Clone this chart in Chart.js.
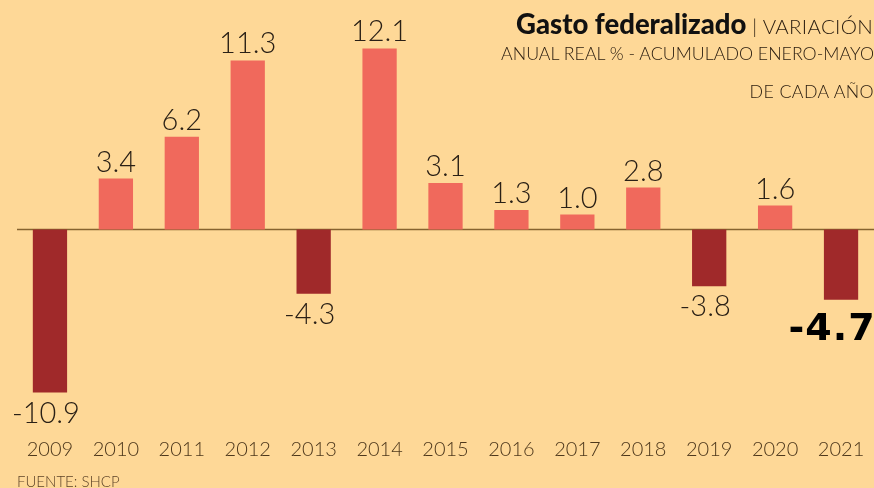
<!DOCTYPE html>
<html>
<head>
<meta charset="utf-8">
<script src="https://cdn.jsdelivr.net/npm/chart.js@4"></script>
<style>
  html, body { margin:0; padding:0; background:#FED897; }
  #wrap { position:relative; width:874px; height:488px; overflow:hidden; background:#FED897; }
  canvas { position:absolute; left:0; top:0; }
  .t { position:absolute; right:0; white-space:nowrap; font-family:Lato, sans-serif; color:#2e2012; line-height:1; }
  #t1 { top:10px; right:1px; }
  #t1 b { font-weight:900; font-size:27.5px; color:#111; }
  #t1 span { font-weight:300; font-size:20.5px; letter-spacing:0.3px; }
  #t2 { top:45px; font-weight:300; font-size:17.8px; }
  #t3 { top:83px; font-weight:300; font-size:17.8px; letter-spacing:0.4px; }
  #src { position:absolute; left:17px; top:474px; font-family:Lato, sans-serif; font-weight:300; font-size:15px; color:#5e4428; line-height:1; }
</style>
</head>
<body>
<div id="wrap">
  <canvas id="c" width="874" height="488"></canvas>
  <div class="t" id="t1"><b>Gasto federalizado</b><span> | VARIACIÓN</span></div>
  <div class="t" id="t2">ANUAL REAL % - ACUMULADO ENERO-MAYO</div>
  <div class="t" id="t3">DE CADA AÑO</div>
  <div id="src">FUENTE: SHCP</div>
</div>
<script>
const years = ['2009','2010','2011','2012','2013','2014','2015','2016','2017','2018','2019','2020','2021'];
const values = [-10.9, 3.4, 6.2, 11.3, -4.3, 12.1, 3.1, 1.3, 1.0, 2.8, -3.8, 1.6, -4.7];
const valueLabels = ['-10.9','3.4','6.2','11.3','-4.3','12.1','3.1','1.3','1.0','2.8','-3.8','1.6','-4.7'];

const POS = '#F0695C', NEG = '#A0292A';

const labelPlugin = {
  id: 'valLabels',
  afterDatasetsDraw(chart) {
    const ctx = chart.ctx;
    const meta = chart.getDatasetMeta(0);
    ctx.save();
    meta.data.forEach((bar, i) => {
      const v = values[i];
      const last = i === values.length - 1;
      ctx.textAlign = 'center';
      ctx.textBaseline = 'alphabetic';
      if (last) {
        ctx.font = 'bold 38px "DejaVu Sans"';
        ctx.letterSpacing = '1px';
        ctx.fillStyle = '#000';
        ctx.fillText(valueLabels[i], bar.x - 9, bar.y + 40);
        ctx.letterSpacing = '0px';
      } else {
        ctx.font = '300 29px Lato';
        ctx.fillStyle = '#2a2016';
        if (v >= 0) ctx.fillText(valueLabels[i], bar.x, bar.y - 7);
        else ctx.fillText(valueLabels[i], bar.x - 4, bar.y + 9 + 21);
      }
    });
    ctx.restore();
  }
};

const zeroLine = {
  id: 'zeroLine',
  beforeDatasetsDraw(chart) {
    const ctx = chart.ctx, y = chart.scales.y.getPixelForValue(0);
    ctx.save();
    ctx.strokeStyle = '#86632f';
    ctx.lineWidth = 1.5;
    ctx.beginPath();
    ctx.moveTo(chart.chartArea.left, y);
    ctx.lineTo(chart.width, y);
    ctx.stroke();
    ctx.restore();
  }
};

new Chart(document.getElementById('c'), {
  type: 'bar',
  data: {
    labels: years,
    datasets: [{
      data: values,
      backgroundColor: values.map(v => v >= 0 ? POS : NEG),
      barPercentage: 0.52,
      categoryPercentage: 1.0,
      borderWidth: 0
    }]
  },
  options: {
    responsive: false,
    animation: false,
    devicePixelRatio: 1,
    layout: { padding: { left: 17, right: 0, top: 35, bottom: 27 } },
    plugins: { legend: { display: false }, tooltip: { enabled: false } },
    scales: {
      x: {
        grid: { display: false },
        border: { display: false },
        afterFit(scale) { scale.height = 52; scale.paddingLeft = 0; scale.paddingRight = 0; },
        ticks: { color: '#4e381c', font: { family: 'Lato', weight: '300', size: 20 }, padding: 21, maxRotation: 0, autoSkip: false }
      },
      y: {
        display: false,
        min: -12,
        max: 13
      }
    }
  },
  plugins: [zeroLine, labelPlugin]
});
</script>
</body>
</html>
